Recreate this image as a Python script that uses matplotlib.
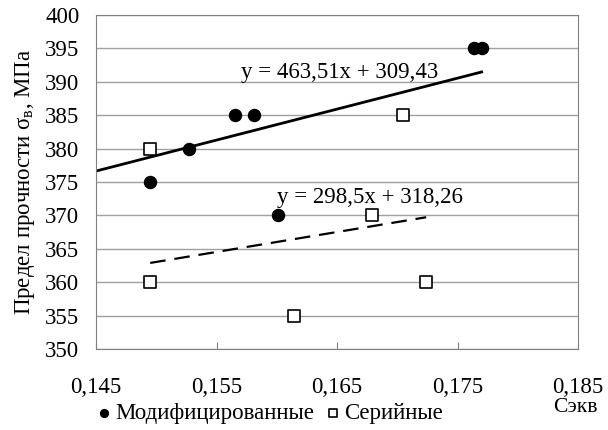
import numpy as np
import matplotlib.pyplot as plt

plt.rcParams['font.family'] = ['Liberation Serif', 'DejaVu Serif']
plt.rcParams['mathtext.fontset'] = 'custom'
plt.rcParams['mathtext.rm'] = 'Liberation Serif'
plt.rcParams['mathtext.it'] = 'Liberation Serif:italic'

# modified samples
x_mod = [0.1495, 0.1527, 0.1565, 0.1581, 0.1601, 0.1764, 0.1770]
y_mod = [375, 380, 385, 385, 370, 395, 395]
# serial samples
x_ser = [0.1495, 0.1495, 0.1614, 0.1679, 0.1705, 0.1724]
y_ser = [380, 360, 355, 370, 385, 360]

k_mod, b_mod = 463.51, 309.43
k_ser, b_ser = 298.5, 318.26

xticks = [0.145, 0.155, 0.165, 0.175, 0.185]
xtick_labels = ['0,145', '0,155', '0,165', '0,175', '0,185']
yticks = list(range(350, 401, 5))

fs = 16.5

fig = plt.figure(figsize=(6.08, 4.30), dpi=100)
ax = fig.add_axes([96/608, 1-349/430, (578-96)/608, (349-15)/430])

ax.set_xlim(0.145, 0.185)
ax.set_ylim(350, 400)
ax.set_yticks(yticks)
ax.set_xticks(xticks)
ax.set_xticklabels(xtick_labels)
ax.grid(axis='y', color='#a0a0a0', lw=1)
ax.set_axisbelow(True)
for s in ax.spines.values():
    s.set_color('#808080')
ax.tick_params(axis='x', direction='in', length=5, color='#808080', pad=20, labelsize=fs)
ax.tick_params(axis='y', length=0, pad=12, labelsize=fs)

# trendlines
xl = np.array([0.145, max(x_mod)])
ax.plot(xl, k_mod*xl + b_mod, color='black', lw=2)
xs = np.array([min(x_ser), max(x_ser)])
ax.plot(xs, k_ser*xs + b_ser, color='black', lw=1.6, dashes=(7, 4))

ax.scatter(x_mod, y_mod, s=75, color='black', zorder=3, label='Модифицированные')
ax.scatter(x_ser, y_ser, s=75, marker='s', facecolor='white', edgecolor='black',
           lw=1.2, zorder=3, label='Серийные')

ax.text(0.1652, 391.4, 'y = 463,51x + 309,43', ha='center', va='center', fontsize=fs)
ax.text(0.1677, 372.7, 'y = 298,5x + 318,26', ha='center', va='center', fontsize=fs)

ax.set_ylabel(r'Предел прочности σ$_\mathrm{в}$, МПа', fontsize=fs, labelpad=6)
fig.text(575/608, 1-408/430, 'Сэкв', ha='center', va='center', fontsize=fs - 1)

fig.legend(loc='center', bbox_to_anchor=(268/608, 1-413/430), ncol=2, frameon=False,
           fontsize=fs, handletextpad=0.0, columnspacing=0.3, handlelength=1.0,
           markerscale=0.65, borderaxespad=0, borderpad=0)

fig.savefig('out.png', dpi=100)
